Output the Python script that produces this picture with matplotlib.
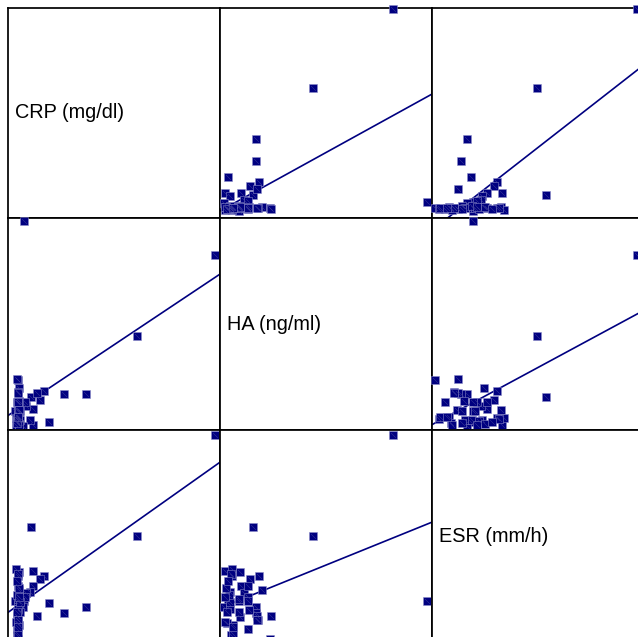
import numpy as np
import matplotlib
matplotlib.use("Agg")
import matplotlib.pyplot as plt
from matplotlib.path import Path

# values (relative units, one entry per patient)
crp = [202, 11, 124, 18, 73, 51, 36, 31, 27, 24, 20, 20, 17, 13, 12, 2, 10,
       5, 4, 6, 5, 4, 6, 5, 5, 5, 7, 5, 6, 3, 5, 4, 6, 5, 5, 7, 4,
       5, 3, 6, 4, 5, 6, 4, 5, 5]
ha = [168, 202, 88, 28, 31, 31, 3, 34, 25, 32, 16, 0, 5, 19, 23, 14, -1,
      45, 46, 37, 33, 23, 24, 23, 23, 15, 14, 14, 15, 7, 7, 6, 8, 6, 5, 5, 4,
      2, 0, 1, 3, 8, 0, 2, 32, 8]
esr = [200, 36, 100, 109, 30, 24, 34, 60, 57, 21, 50, 65, 45, 44, 40, 36, 30,
       -2, 21, 47, 17, 8, 27, 36, 50, 20, 25, 38, 64, 67, 60, 2, 12, 62, 28, 35, 42,
       14, 15, 48, 55, 3, 40, 25, 17, 10]

names = ['CRP (mg/dl)', 'HA (ng/ml)', 'ESR (mm/h)']
data = [np.array(crp, float), np.array(ha, float), np.array(esr, float)]

navy = '#000080'
W, H = 638, 637
col_left = [8, 220, 432]
row_top = [8, 218, 430]
row_bot = [218, 430, 642]

plt.rcParams['font.family'] = ['Liberation Sans', 'DejaVu Sans']
fig = plt.figure(figsize=(W / 100, H / 100), dpi=100)

diag = Path([(-1, 1), (1, -1)])

for r in range(3):
    for c in range(3):
        h = row_bot[r] - row_top[r]
        ax = fig.add_axes([col_left[c] / W, 1 - row_bot[r] / H, 212 / W, h / H])
        ax.set_xlim(-5, 207)
        ax.set_ylim(-5, h - 7)
        ax.set_xticks([])
        ax.set_yticks([])
        for s in ax.spines.values():
            s.set_linewidth(1.25)
            s.set_color('black')
        if r == c:
            ax.text(0.035, 0.5, names[r], transform=ax.transAxes,
                    ha='left', va='center', fontsize=14.3)
            continue
        x = data[c]
        y = data[r]
        ax.plot(x, y, ls='none', marker='s', ms=5.2, mfc=navy,
                mec='#8c8cc8', mew=0.4, clip_on=False, zorder=3)
        ax.plot(x, y, ls='none', marker=diag, ms=3.6, mfc='none',
                mec='#3c3c9c', mew=0.35, clip_on=False, zorder=4)
        # least squares line of row variable on column variable
        k, b = np.polyfit(x, y, 1)
        xs = np.array(ax.get_xlim())
        ax.plot(xs, k * xs + b, color=navy, lw=1.2, zorder=2)

fig.savefig('out.png', dpi=100)
